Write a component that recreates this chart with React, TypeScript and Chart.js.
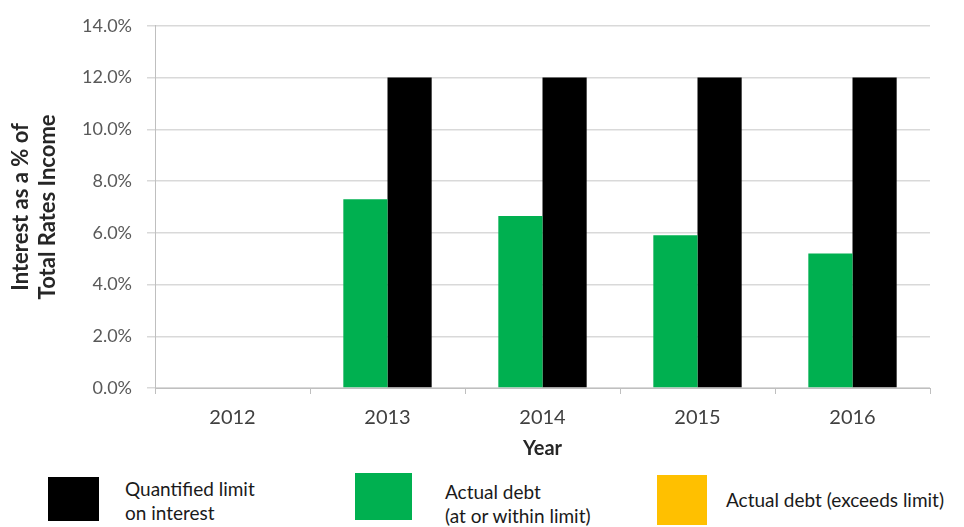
import React, { useEffect, useRef } from "react";
import { Chart, registerables } from "chart.js";

Chart.register(...registerables);

const years = ["2012", "2013", "2014", "2015", "2016"];
const actualDebt: (number | null)[] = [null, 7.3, 6.65, 5.9, 5.2];
const quantifiedLimit: (number | null)[] = [null, 12, 12, 12, 12];
const yMax = 14;
const yStep = 2;
const yTitle = ["Interest as a % of", "Total Rates Income"];
const xTitle = "Year";

const legendItems = [
  { color: "#000000", lines: ["Quantified limit", "on interest"], box: [48, 477, 51, 44], text: [125, 477] },
  { color: "#00B050", lines: ["Actual debt", "(at or within limit)"], box: [355, 473, 57, 47], text: [445, 480] },
  { color: "#FFC000", lines: ["Actual debt (exceeds limit)"], box: [657, 475, 50, 50], text: [726, 488] },
];

const FONT = "Lato, 'Open Sans', sans-serif";

export default function App() {
  const ref = useRef<HTMLCanvasElement | null>(null);

  useEffect(() => {
    if (!ref.current) return;
    const chart = new Chart(ref.current, {
      type: "bar",
      data: {
        labels: years,
        datasets: [
          {
            label: "Actual debt (at or within limit)",
            data: actualDebt,
            backgroundColor: "#00B050",
            categoryPercentage: 0.57,
            barPercentage: 1,
          },
          {
            label: "Quantified limit on interest",
            data: quantifiedLimit,
            backgroundColor: "#000000",
            categoryPercentage: 0.57,
            barPercentage: 1,
          },
        ],
      },
      options: {
        animation: false,
        responsive: false,
        devicePixelRatio: 1,
        layout: { padding: { top: 22, right: 34, bottom: 0, left: 0 } },
        plugins: {
          legend: { display: false },
          tooltip: { enabled: false },
        },
        scales: {
          x: {
            offset: true,
            grid: {
              display: true,
              drawOnChartArea: false,
              drawTicks: true,
              tickLength: 6,
              color: "#BFBFBF",
              offset: true,
            },
            border: { color: "#BFBFBF", width: 1 },
            ticks: {
              color: "#404040",
              font: { family: FONT, size: 20 },
              padding: 12,
            },
            title: {
              display: true,
              text: xTitle,
              color: "#262626",
              font: { family: FONT, size: 20, weight: "bold", lineHeight: 1.1 },
              padding: { top: 4, bottom: 0 },
            },
            afterFit: (s: any) => {
              s.height = 72;
            },
          },
          y: {
            min: 0,
            max: yMax,
            ticks: {
              stepSize: yStep,
              color: "#595959",
              font: { family: FONT, size: 18 },
              padding: 15,
              callback: (v: any) => Number(v).toFixed(1) + "%",
            },
            grid: {
              color: "#D9D9D9",
              lineWidth: 1.5,
              tickLength: 8,
              drawTicks: true,
            },
            border: { color: "#BFBFBF", width: 1 },
            title: {
              display: true,
              text: yTitle,
              color: "#262626",
              font: { family: FONT, size: 22, weight: "bold", lineHeight: 1.227 },
              padding: { top: 7.5, bottom: 0 },
            },
            afterFit: (s: any) => {
              s.width = 155;
            },
          },
        },
      },
    });
    return () => chart.destroy();
  }, []);

  return (
    <div style={{ position: "absolute", left: 0, top: 0, width: 964, height: 527, background: "#fff", overflow: "hidden" }}>
      <canvas ref={ref} width={964} height={460} style={{ position: "absolute", left: 0, top: 0, width: 964, height: 460 }} />
      {legendItems.map((it, i) => (
        <React.Fragment key={i}>
          <div
            style={{
              position: "absolute",
              left: it.box[0],
              top: it.box[1],
              width: it.box[2],
              height: it.box[3],
              background: it.color,
            }}
          />
          <div
            style={{
              position: "absolute",
              left: it.text[0],
              top: it.text[1],
              fontFamily: FONT,
              fontSize: 19,
              lineHeight: "24px",
              color: "#1a1a1a",
              whiteSpace: "nowrap",
            }}
          >
            {it.lines.map((l, j) => (
              <div key={j}>{l}</div>
            ))}
          </div>
        </React.Fragment>
      ))}
    </div>
  );
}
